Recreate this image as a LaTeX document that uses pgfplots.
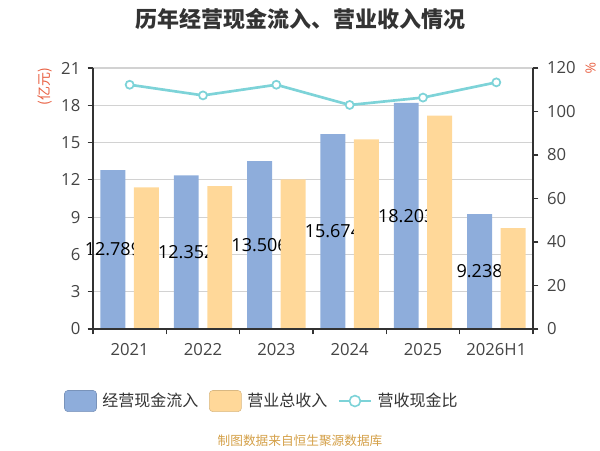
\documentclass[border=0pt]{standalone}
\usepackage{pgfplots}
\pgfplotsset{compat=1.18}
\usepackage{fontspec}
\setmainfont{Open Sans}
\newfontfamily\cjk{Noto Sans CJK SC}
\definecolor{cblue}{RGB}{142,173,219}
\definecolor{corange}{RGB}{255,216,153}
\definecolor{cline}{RGB}{125,211,216}
\definecolor{caxis}{RGB}{51,51,51}
\definecolor{ctick}{RGB}{68,68,68}
\definecolor{cgrid}{RGB}{210,210,210}
\definecolor{cunit}{RGB}{232,95,65}
\definecolor{csrc}{RGB}{212,160,72}
\pgfplotsset{
  base/.style={
    at={(69.75pt,90.75pt)}, anchor=south west,
    width=330pt, height=195.75pt, scale only axis,
    xmin=-0.5, xmax=5.5,
    axis line style={caxis, line width=0.9pt},
    tick style={caxis, line width=0.9pt},
    ticklabel style={font=\fontsize{12.5}{12.5}\selectfont, text=ctick},
    /pgf/number format/assume math mode=true,
    clip=false,
  }
}
\begin{document}
\begin{tikzpicture}
\path[use as bounding box] (0,0) rectangle (450pt,337.5pt);
\begin{axis}[base,
  ymin=0, ymax=21,
  ytick={0,3,...,21},
  xtick={0,...,5},
  xticklabels={2021,2022,2023,2024,2025,2026H1},
  minor xtick={-0.5,0.5,...,5.5},
  major x tick style={draw=none},
  minor tick length=4pt, major tick length=4pt,
  tick align=outside,
  axis x line*=bottom, axis y line*=left,
  ymajorgrids, grid style={cgrid, line width=0.8pt},
  xticklabel style={yshift=-3pt},
  yticklabel style={xshift=-2pt},
  legend style={draw=none, fill=none, legend columns=3,
    at={(-0.066,-0.276)}, anchor=west, inner sep=0pt,
    font=\cjk\fontsize{12}{12}\selectfont, text=caxis,
    nodes={inner sep=1pt},
    /tikz/every odd column/.append style={column sep=3.25pt},
    /tikz/every even column/.append style={column sep=7pt}},
]
\addplot[ybar, bar width=0.34, bar shift=-0.228, fill=cblue, draw=none,
  point meta=explicit symbolic,
  nodes near coords,
  visualization depends on=y \as \rawy,
  every node near coord/.append style={anchor=center, font=\fontsize{13.5}{13.5}\selectfont, text=black,
     shift={(axis direction cs:-0.228,-\rawy/2)}},
  legend image code/.code={\draw[fill=cblue, draw=cblue!85!black, rounded corners=2.5pt] (0pt,-7.9pt) rectangle (24pt,7.9pt);}
] table[x=x, y=y, meta=lab] {
x y lab
0 12.789 12.789
1 12.352 12.352
2 13.506 13.506
3 15.674 15.674
4 18.203 18.203
5 9.238 9.238
};
\addlegendentry{经营现金流入}
\addlegendimage{legend image code/.code={\draw[fill=corange, draw=corange!85!black, rounded corners=2.5pt] (0pt,-7.9pt) rectangle (24pt,7.9pt);}}
\addlegendentry{营业总收入}
\addlegendimage{legend image code/.code={\draw[cline, line width=1.5pt] (0pt,0pt) -- (24pt,0pt); \draw[cline, fill=white, line width=1.2pt] (12pt,0pt) circle (4.1pt);}}
\addlegendentry{营收现金比}
\end{axis}
\begin{axis}[base,
  ymin=0, ymax=21,
  axis on top,
  axis x line*=bottom, axis y line=none,
  xtick=\empty, ytick=\empty,
]
\addplot[ybar, bar width=0.34, bar shift=0.228, fill=corange, draw=none] table[x=x, y=y] {
x y
0 11.40
1 11.50
2 12.04
3 15.26
4 17.16
5 8.12
};
\end{axis}
\begin{axis}[base,
  ymin=0, ymax=120,
  ytick={0,20,...,120},
  axis x line=none, axis y line*=right,
  tick align=outside, major tick length=4pt,
  yticklabel style={xshift=3pt},
]
\addplot[cline, line width=2pt, mark=*, mark size=3pt,
  mark options={fill=white, draw=cline, line width=1.3pt}] coordinates {
(0,112.3) (1,107.4) (2,112.3) (3,103.0) (4,106.4) (5,113.4)
};
\end{axis}
\node[font=\cjk\bfseries\fontsize{16.5}{17}\selectfont, text=caxis] at (225pt,323.25pt) {历年经营现金流入、营业收入情况};
\node[font=\cjk\fontsize{10.5}{11}\selectfont, text=cunit, rotate=90] at (33.75pt,272.5pt) {(亿元)};
\node[font=\fontsize{10.5}{11}\selectfont, text=cunit, rotate=-90] at (443pt,286pt) {\%};
\node[font=\cjk\fontsize{9.5}{10}\selectfont, text=csrc] at (225pt,6.75pt) {制图数据来自恒生聚源数据库};
\end{tikzpicture}
\end{document}
